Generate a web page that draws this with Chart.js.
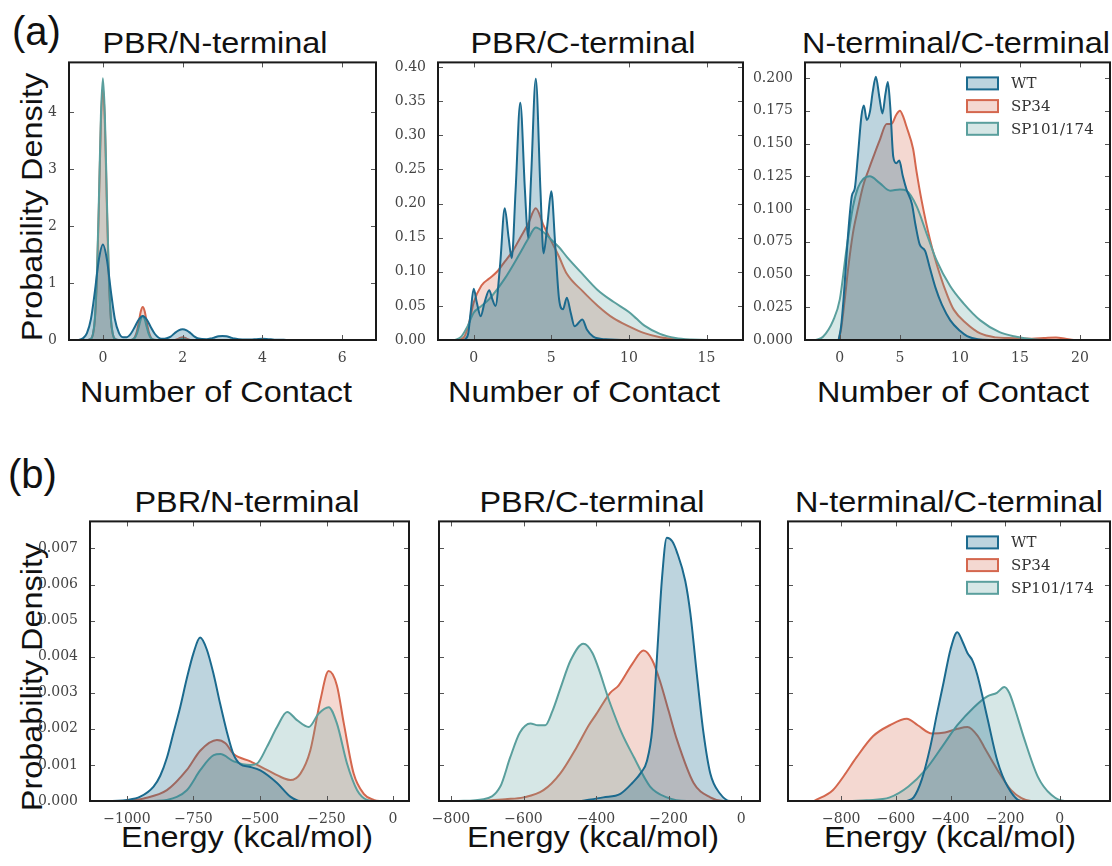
<!DOCTYPE html>
<html>
<head>
<meta charset="utf-8">
<title>Contacts and energies</title>
<script src="https://cdn.jsdelivr.net/npm/chart.js@4.4.0/dist/chart.umd.min.js"></script>
<style>
  html, body { margin: 0; padding: 0; background: #fff; }
  #fig { position: relative; width: 1112px; height: 866px; overflow: hidden;
         font-family: "Liberation Sans", Arial, sans-serif; color: #111; }
  #fig canvas { position: absolute; }
  .t { position: absolute; font-size: 30px; line-height: 30px; white-space: nowrap;
       transform: translateX(-50%) scaleX(1.08); }
  .lab { position: absolute; font-size: 40px; line-height: 40px; }
  .yl { position: absolute; font-size: 30px; line-height: 30px; white-space: nowrap;
        transform: translate(-50%, -50%) rotate(-90deg) scaleX(1.08); }
</style>
</head>
<body>
<div id="fig">
  <div class="lab" style="left:12px;top:11px">(a)</div>
  <div class="lab" style="left:8px;top:454px">(b)</div>

  <div class="t" style="left:215px;top:28px">PBR/N-terminal</div>
  <div class="t" style="left:583px;top:28px">PBR/C-terminal</div>
  <div class="t" style="left:956px;top:28px">N-terminal/C-terminal</div>
  <div class="t" style="left:216px;top:377px">Number of Contact</div>
  <div class="t" style="left:584px;top:377px">Number of Contact</div>
  <div class="t" style="left:953px;top:377px">Number of Contact</div>

  <div class="t" style="left:247px;top:487px">PBR/N-terminal</div>
  <div class="t" style="left:592px;top:487px">PBR/C-terminal</div>
  <div class="t" style="left:949px;top:487px">N-terminal/C-terminal</div>
  <div class="t" style="left:247px;top:822px">Energy (kcal/mol)</div>
  <div class="t" style="left:593px;top:822px">Energy (kcal/mol)</div>
  <div class="t" style="left:950px;top:822px">Energy (kcal/mol)</div>

  <div class="yl" style="left:31.6px;top:207px">Probability Density</div>
  <div class="yl" style="left:31.6px;top:677px">Probability Density</div>
</div>

<script>
// series names
const seriesNames = ["WT", "SP34", "SP101/174"];

// tick values
const contactTicksA1 = [0, 2, 4, 6];
const contactTicks = [0, 5, 10, 15, 20];
const densTicksA1 = [0, 1, 2, 3, 4];
const densTicksA2 = [0, 0.05, 0.10, 0.15, 0.20, 0.25, 0.30, 0.35, 0.40];
const densTicksA3 = [0, 0.025, 0.05, 0.075, 0.1, 0.125, 0.15, 0.175, 0.2];
const densTicksB = [0, 0.001, 0.002, 0.003, 0.004, 0.005, 0.006, 0.007];
const energyTicksB1 = [-1000, -750, -500, -250, 0];
const energyTicksB23 = [-800, -600, -400, -200, 0];

// (a) number of contacts, [contacts, density]
const a1WT = [[-0.6,0],[-0.5,0.03],[-0.4,0.12],[-0.3,0.37],[-0.2,0.86],[-0.1,1.42],[0,1.68],[0.1,1.42],[0.2,0.86],[0.3,0.37],[0.4,0.13],[0.5,0.05],[0.6,0.05],[0.7,0.11],[0.8,0.23],[0.9,0.36],[1,0.42],[1.1,0.36],[1.2,0.23],[1.3,0.11],[1.4,0.04],[1.5,0.02],[1.6,0.03],[1.7,0.06],[1.8,0.12],[1.9,0.17],[2,0.19],[2.1,0.17],[2.2,0.12],[2.3,0.06],[2.4,0.025],[2.6,0.015],[2.7,0.025],[2.8,0.045],[2.9,0.065],[3,0.07],[3.1,0.065],[3.2,0.045],[3.3,0.025],[3.5,0.008],[3.7,0.008],[3.85,0.015],[4,0.022],[4.15,0.015],[4.3,0.006],[4.6,0.002],[5,0.001],[6,0],[7,0]];
const a1SP34 = [[-0.4,0],[-0.3,0.02],[-0.25,0.1],[-0.2,0.36],[-0.15,1.08],[-0.1,2.35],[-0.05,3.8],[0,4.45],[0.05,3.8],[0.1,2.35],[0.15,1.08],[0.2,0.36],[0.25,0.1],[0.3,0.02],[0.4,0],[0.7,0],[0.75,0.012],[0.8,0.05],[0.85,0.145],[0.9,0.31],[0.95,0.5],[1,0.58],[1.05,0.5],[1.1,0.31],[1.15,0.145],[1.2,0.05],[1.25,0.012],[1.35,0],[1.8,0],[1.9,0.025],[2,0.05],[2.1,0.025],[2.2,0],[7,0]];
const a1SP101 = [[-0.4,0],[-0.3,0.02],[-0.25,0.1],[-0.2,0.39],[-0.15,1.15],[-0.1,2.48],[-0.05,3.94],[0,4.6],[0.05,3.94],[0.1,2.48],[0.15,1.15],[0.2,0.39],[0.25,0.1],[0.3,0.02],[0.4,0],[0.7,0],[0.75,0.009],[0.8,0.036],[0.85,0.105],[0.9,0.23],[0.95,0.36],[1,0.42],[1.05,0.36],[1.1,0.23],[1.15,0.105],[1.2,0.036],[1.25,0.009],[1.35,0],[1.85,0],[2,0.02],[2.15,0],[7,0]];

const a2WT = [[-0.6,0],[-0.35,0.01],[-0.2,0.04],[0,0.075],[0.2,0.055],[0.45,0.035],[0.7,0.055],[1,0.073],[1.2,0.06],[1.4,0.05],[1.7,0.11],[2,0.193],[2.25,0.15],[2.45,0.12],[2.7,0.22],[3,0.348],[3.3,0.22],[3.5,0.15],[3.7,0.24],[4,0.383],[4.3,0.22],[4.5,0.127],[4.75,0.17],[5,0.218],[5.25,0.14],[5.5,0.06],[5.75,0.045],[6,0.062],[6.25,0.04],[6.5,0.02],[7,0.03],[7.3,0.015],[7.7,0.005],[8.5,0.001],[10,0],[18,0]];
const a2SP34 = [[-1,0],[-0.6,0.005],[-0.3,0.025],[0,0.055],[0.5,0.08],[1,0.09],[1.5,0.1],[2,0.115],[2.5,0.13],[3,0.15],[3.5,0.17],[4,0.193],[4.5,0.168],[5,0.145],[5.5,0.122],[6,0.097],[7,0.072],[8,0.05],[9,0.032],[10,0.02],[11,0.01],[12,0.004],[13,0.001],[14,0],[18,0]];
const a2SP101 = [[-1.2,0],[-0.8,0.005],[-0.4,0.02],[0,0.04],[0.5,0.05],[1,0.06],[2,0.09],[3,0.128],[3.5,0.148],[4,0.165],[4.5,0.158],[5,0.147],[5.5,0.136],[6,0.122],[7,0.097],[8,0.073],[9,0.056],[10,0.041],[10.5,0.031],[11,0.021],[12,0.009],[13,0.003],[14,0.0007],[15,0],[18,0]];

const a3WT = [[-0.1,0],[0.1,0.01],[0.3,0.03],[0.7,0.082],[1,0.11],[1.25,0.116],[1.5,0.14],[1.8,0.171],[2,0.179],[2.25,0.168],[2.5,0.174],[2.75,0.19],[3,0.201],[3.3,0.185],[3.55,0.173],[3.8,0.188],[4,0.197],[4.2,0.178],[4.45,0.14],[4.7,0.135],[4.95,0.137],[5.25,0.125],[5.55,0.115],[6,0.104],[6.3,0.088],[6.65,0.073],[7.1,0.068],[7.5,0.055],[8,0.039],[8.5,0.027],[9.2,0.015],[10,0.007],[10.6,0.003],[11.5,0.0005],[12.5,0],[23,0]];
const a3SP34 = [[-0.1,0],[0.1,0.008],[0.4,0.03],[0.7,0.055],[1.1,0.082],[1.5,0.1],[1.95,0.118],[2.4,0.13],[2.8,0.14],[3.3,0.152],[3.9,0.165],[4.3,0.165],[4.7,0.172],[5,0.175],[5.3,0.17],[5.55,0.163],[6.1,0.146],[6.4,0.128],[6.8,0.107],[7.5,0.077],[8.3,0.051],[9,0.033],[9.5,0.023],[10.5,0.013],[11.7,0.005],[13,0.002],[14,0.0015],[16,0.001],[17,0.0015],[18,0.002],[18.8,0.001],[19.5,0],[23,0]];
const a3SP101 = [[-2,0],[-1.4,0.0025],[-0.55,0.015],[0,0.031],[0.55,0.069],[1.1,0.102],[1.5,0.116],[1.95,0.123],[2.5,0.125],[3.3,0.12],[4.2,0.114],[5,0.115],[5.55,0.114],[6.4,0.102],[7.2,0.082],[8.05,0.061],[9.2,0.041],[10.3,0.028],[11.7,0.015],[13.3,0.006],[14.7,0.0025],[16.1,0.0005],[17.2,0],[23,0]];

// (b) interaction energy, [kcal/mol, density]
const b1WT = [[-1150,0],[-1080,0],[-1000,0.00003],[-950,0.00012],[-900,0.0004],[-875,0.0007],[-850,0.0012],[-825,0.0019],[-800,0.0026],[-775,0.0034],[-750,0.0041],[-725,0.00453],[-700,0.0042],[-674,0.0035],[-650,0.0027],[-624,0.0019],[-600,0.0013],[-574,0.00102],[-540,0.00095],[-499,0.00085],[-436,0.0005],[-386,0.00012],[-348,0],[60,0]];
const b1SP34 = [[-1000,0],[-937,0.00007],[-850,0.0003],[-775,0.00086],[-724,0.0014],[-662,0.00169],[-630,0.0016],[-599,0.0013],[-536,0.0011],[-474,0.00086],[-411,0.00063],[-386,0.00058],[-348,0.00076],[-311,0.0014],[-273,0.0028],[-242,0.0036],[-211,0.0032],[-185,0.00215],[-148,0.00076],[-110,0.0002],[-73,0.00003],[-50,0],[60,0]];
const b1SP101 = [[-900,0],[-850,0.00003],[-775,0.0003],[-724,0.00086],[-674,0.00127],[-649,0.0013],[-599,0.0011],[-536,0.001],[-511,0.00104],[-474,0.0015],[-436,0.00205],[-398,0.00247],[-361,0.00224],[-317,0.00205],[-280,0.00242],[-242,0.0026],[-211,0.00215],[-173,0.00104],[-135,0.0003],[-98,0.00003],[-70,0],[60,0]];

const b2WT = [[-440,0],[-380,0.0001],[-333,0.0002],[-300,0.0005],[-275,0.0008],[-260,0.0011],[-245,0.002],[-232,0.004],[-218,0.0062],[-205,0.0073],[-190,0.0072],[-177,0.0069],[-154,0.0061],[-140,0.0052],[-122,0.0035],[-104,0.0019],[-85,0.00076],[-58,0.0002],[-30,0],[60,0]];
const b2SP34 = [[-720,0],[-650,0.00005],[-600,0.0001],[-545,0.0003],[-499,0.00076],[-453,0.0015],[-420,0.0021],[-400,0.0024],[-361,0.003],[-338,0.0032],[-300,0.0038],[-269,0.00417],[-245,0.0039],[-223,0.0033],[-200,0.0025],[-177,0.0017],[-131,0.0005],[-85,0.0001],[-50,0],[60,0]];
const b2SP101 = [[-780,0],[-710,0.00005],[-664,0.0004],[-637,0.0012],[-610,0.0019],[-581,0.00215],[-560,0.0021],[-540,0.0021],[-520,0.0025],[-499,0.0031],[-470,0.0039],[-435,0.00436],[-410,0.0041],[-361,0.0027],[-330,0.0019],[-296,0.00122],[-251,0.0004],[-205,0.0001],[-150,0],[60,0]];

const b3WT = [[-560,0],[-535,0.0001],[-505,0.0006],[-474,0.0015],[-450,0.0024],[-425,0.0033],[-400,0.0042],[-375,0.00468],[-355,0.0044],[-338,0.0041],[-320,0.0039],[-302,0.0035],[-265,0.0023],[-228,0.0011],[-191,0.0004],[-142,0],[190,0]];
const b3SP34 = [[-900,0],[-831,0.0003],[-790,0.0007],[-745,0.0012],[-683,0.0018],[-622,0.0021],[-560,0.00228],[-520,0.0021],[-468,0.00187],[-420,0.0019],[-375,0.002],[-338,0.00205],[-300,0.0018],[-277,0.0015],[-228,0.00086],[-178,0.0003],[-140,0.00008],[-105,0],[190,0]];
const b3SP101 = [[-760,0],[-708,0.00002],[-622,0.0001],[-554,0.0004],[-492,0.00086],[-431,0.0015],[-375,0.0021],[-314,0.0026],[-265,0.0029],[-230,0.003],[-203,0.00316],[-185,0.003],[-166,0.0026],[-129,0.0017],[-80,0.00067],[-31,0.00017],[18,0],[190,0]];

// styling
const lineColors = ["#1b6a8e", "#d4674e", "#5a9f9d"];
const fillColors = ["rgba(27,106,142,0.29)", "rgba(212,103,78,0.26)", "rgba(90,159,157,0.25)"];
const drawOrder = [0, 2, 1];   // WT on top, then SP101/174, SP34 underneath
const TICK_FONT = { family: "'DejaVu Serif', serif", size: 14 };
const PADL = 62, PADB = 32, PADT = 12, PADR = 6;

const fmt = d => v => (d === null ? String(v) : Number(v).toFixed(d)).replace('-', '\u2212');
// only keep ticks that fall inside the axis range
const useTicks = list => s => {
  s.ticks = list.filter(v => v >= s.min - 1e-9 && v <= s.max + 1e-9).map(v => ({ value: v }));
};

// black frame + inward ticks, like the old matplotlib style
const framePlugin = {
  id: 'frame',
  afterDatasetsDraw(chart) {
    const { ctx, chartArea: a, scales } = chart;
    ctx.save();
    ctx.strokeStyle = '#555';
    ctx.lineWidth = 1;
    ctx.beginPath();
    scales.x.ticks.forEach(t => {
      const px = Math.round(scales.x.getPixelForValue(t.value)) + 0.5;
      ctx.moveTo(px, a.bottom); ctx.lineTo(px, a.bottom - 5);
      ctx.moveTo(px, a.top); ctx.lineTo(px, a.top + 5);
    });
    scales.y.ticks.forEach(t => {
      const py = Math.round(scales.y.getPixelForValue(t.value)) + 0.5;
      ctx.moveTo(a.left, py); ctx.lineTo(a.left + 5, py);
      ctx.moveTo(a.right, py); ctx.lineTo(a.right - 5, py);
    });
    ctx.stroke();
    ctx.strokeStyle = '#1a1a1a';
    ctx.lineWidth = 2;
    ctx.strokeRect(a.left, a.top, a.right - a.left, a.bottom - a.top);
    ctx.restore();
  }
};

// legend with outlined patches in the upper right
const boxLegend = {
  id: 'boxLegend',
  afterDraw(chart) {
    const { ctx, chartArea: a } = chart;
    ctx.save();
    ctx.font = "15px 'DejaVu Serif', serif";
    ctx.textBaseline = 'middle';
    chart.data.datasets.forEach((ds, i) => {
      const x = a.right - 143, y = a.top + 21 + i * 22.7;
      ctx.fillStyle = '#fff';
      ctx.fillRect(x, y - 6, 31, 12);
      ctx.fillStyle = ds.backgroundColor;
      ctx.fillRect(x, y - 6, 31, 12);
      ctx.strokeStyle = ds.borderColor;
      ctx.lineWidth = 2;
      ctx.strokeRect(x, y - 6, 31, 12);
      ctx.fillStyle = '#333';
      ctx.fillText(ds.label, x + 44, y + 1);
    });
    ctx.restore();
  }
};

function panel(box, series, xr, xTicks, yMax, yTicks, yDec, opts) {
  opts = opts || {};
  const cv = document.createElement('canvas');
  const w = box[2] - box[0] + PADL + PADR;
  const h = box[3] - box[1] + PADT + PADB;
  cv.width = w; cv.height = h;
  cv.style.left = (box[0] - PADL) + 'px';
  cv.style.top = (box[1] - PADT) + 'px';
  cv.style.width = w + 'px'; cv.style.height = h + 'px';
  document.getElementById('fig').appendChild(cv);

  const plugins = [framePlugin];
  if (opts.legend) plugins.push(boxLegend);

  return new Chart(cv, {
    type: 'line',
    data: {
      datasets: series.map((pts, i) => ({
        label: seriesNames[i],
        data: pts.map(p => ({ x: p[0], y: p[1] })),
        borderColor: lineColors[i],
        backgroundColor: fillColors[i],
        borderWidth: 2,
        fill: 'origin',
        order: drawOrder[i],
        pointRadius: 0,
        cubicInterpolationMode: 'monotone'
      }))
    },
    options: {
      responsive: false,
      animation: false,
      devicePixelRatio: 1,
      layout: { padding: { top: PADT, right: PADR, left: 0, bottom: 0 } },
      plugins: { legend: { display: false }, tooltip: { enabled: false } },
      scales: {
        x: {
          type: 'linear', min: xr[0], max: xr[1],
          border: { display: false },
          grid: { display: false },
          afterBuildTicks: useTicks(xTicks),
          ticks: { maxRotation: 0, autoSkip: false, padding: 2,
                   color: '#444', font: TICK_FONT, callback: fmt(null) },
          afterFit(s) { s.height = PADB; }
        },
        y: {
          min: 0, max: yMax,
          border: { display: false },
          grid: { display: false },
          afterBuildTicks: useTicks(yTicks),
          ticks: { autoSkip: false, padding: 4, color: '#444', font: TICK_FONT,
                   callback: opts.noYLabels ? () => '' : fmt(yDec) },
          afterFit(s) { s.width = PADL; }
        }
      }
    },
    plugins: plugins
  });
}

// row (a)
panel([69, 62, 376, 340], [a1WT, a1SP34, a1SP101], [-0.85, 6.85], contactTicksA1, 4.88, densTicksA1, null);
panel([438, 62, 743, 340], [a2WT, a2SP34, a2SP101], [-2.3, 17.35], contactTicks, 0.407, densTicksA2, 2);
panel([805, 62, 1110, 340], [a3WT, a3SP34, a3SP101], [-2.9, 22.5], contactTicks, 0.212, densTicksA3, 3, { legend: true });

// row (b)
panel([90, 521, 409, 801], [b1WT, b1SP34, b1SP101], [-1139, 60], energyTicksB1, 0.00775, densTicksB, 3);
panel([439, 521, 760, 801], [b2WT, b2SP34, b2SP101], [-833, 52], energyTicksB23, 0.00775, densTicksB, 3, { noYLabels: true });
panel([788, 521, 1110, 801], [b3WT, b3SP34, b3SP101], [-995, 184], energyTicksB23, 0.00775, densTicksB, 3, { legend: true, noYLabels: true });
</script>
</body>
</html>
